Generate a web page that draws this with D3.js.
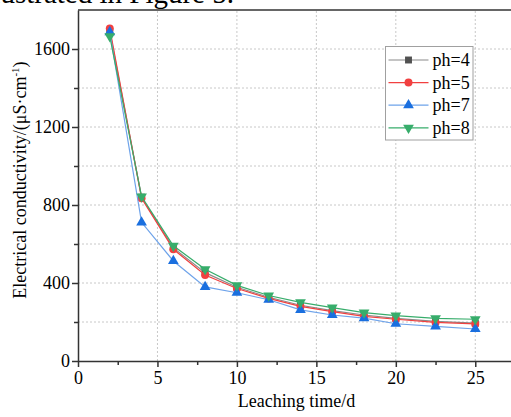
<!DOCTYPE html>
<html>
<head>
<meta charset="utf-8">
<script src="https://cdn.jsdelivr.net/npm/d3@7"></script>
<style>
  html, body { margin: 0; padding: 0; background: #fff; overflow: hidden; }
  text { font-family: "Liberation Serif", "Times New Roman", serif; fill: #000; }
</style>
</head>
<body>
<div class="chart-area"></div>
<script>
// leaching time (d)
var days = [2, 4, 6, 8, 10, 12, 14, 16, 18, 20, 22.5, 25];
// conductivity for each pH (uS/cm)
var ph4 = [1690, 840, 580, 453, 378, 327, 286, 258, 236, 219, 203, 194];
var ph5 = [1705, 835, 573, 441, 372, 321, 280, 253, 229, 214, 198, 190];
var ph7 = [1687, 711, 513, 380, 350, 314, 262, 236, 220, 191, 178, 164];
var ph8 = [1665, 843, 591, 470, 388, 336, 301, 274, 248, 233, 219, 214];
var seriesNames = ["ph=4", "ph=5", "ph=7", "ph=8"];
var xTicks = [0, 5, 10, 15, 20, 25];
var yTicks = [0, 400, 800, 1200, 1600];

const width = 511, height = 417;
const margin = { top: 10, right: -4, bottom: 56, left: 78 };

const svg = d3.select('.chart-area').append('svg')
    .attr('width', width).attr('height', height);

// cropped caption text from the page above the figure
svg.append("text")
    .attr("x", 234).attr("y", 3)
    .attr("text-anchor", "end")
    .style("font-size", "29px")
    .text("illustrated in Figure 5.");

var x = d3.scaleLinear().domain([0, 27.5])
    .range([margin.left, width - margin.right]);
var y = d3.scaleLinear().domain([0, 1800])
    .range([height - margin.bottom, margin.top]);

// grid
svg.append("g").selectAll("line")
    .data(d3.range(200, 1800, 200))
    .join("line")
    .attr("x1", x(0)).attr("x2", x(27.5))
    .attr("y1", d => y(d)).attr("y2", d => y(d))
    .attr("stroke", "#c8c8c8").attr("stroke-dasharray", "2,2");
svg.append("g").selectAll("line")
    .data(xTicks.slice(1))
    .join("line")
    .attr("x1", d => x(d)).attr("x2", d => x(d))
    .attr("y1", y(0)).attr("y2", y(1800))
    .attr("stroke", "#c8c8c8").attr("stroke-dasharray", "2,2");

// frame top
svg.append("line")
    .attr("x1", x(0)).attr("x2", x(27.5))
    .attr("y1", y(1800)).attr("y2", y(1800))
    .attr("stroke", "#333").attr("stroke-width", 1.5);

// minor ticks
svg.append("g").attr("transform", `translate(0,${y(0)})`)
    .call(d3.axisBottom(x).tickValues(d3.range(2.5, 27.5, 5)).tickSize(4).tickFormat(""))
    .call(g => g.select(".domain").remove())
    .call(g => g.selectAll("line").attr("stroke", "#333").attr("stroke-width", 1.5));
svg.append("g").attr("transform", `translate(${x(0)},0)`)
    .call(d3.axisLeft(y).tickValues(d3.range(200, 1800, 400)).tickSize(4).tickFormat(""))
    .call(g => g.select(".domain").remove())
    .call(g => g.selectAll("line").attr("stroke", "#333").attr("stroke-width", 1.5));

var xAxis = g => g
    .attr("transform", `translate(0,${y(0)})`)
    .call(d3.axisBottom(x).tickValues(xTicks).tickFormat(d3.format("d"))
        .tickSize(6).tickPadding(4).tickSizeOuter(0))
    .call(g => g.select(".domain").attr("stroke", "#333").attr("stroke-width", 1.5))
    .call(g => g.selectAll(".tick line").attr("stroke", "#333").attr("stroke-width", 1.5))
    .call(g => g.selectAll("text").style("font-size", "18px")
        .style("font-family", '"Liberation Serif", serif'));

var yAxis = g => g
    .attr("transform", `translate(${x(0)},0)`)
    .call(d3.axisLeft(y).tickValues(yTicks).tickFormat(d3.format("d"))
        .tickSize(6).tickPadding(2).tickSizeOuter(0))
    .call(g => g.select(".domain").attr("stroke", "#333").attr("stroke-width", 1.5))
    .call(g => g.selectAll(".tick line").attr("stroke", "#333").attr("stroke-width", 1.5))
    .call(g => g.selectAll("text").style("font-size", "18px")
        .style("font-family", '"Liberation Serif", serif'));

svg.append("g").call(xAxis);
svg.append("g").call(yAxis);

// axis titles
svg.append("text")
    .attr("x", x(13.75)).attr("y", 407)
    .attr("text-anchor", "middle")
    .style("font-size", "18px")
    .text("Leaching time/d");

var yt = svg.append("text")
    .attr("transform", "translate(26,180) rotate(-90)")
    .attr("text-anchor", "middle")
    .style("font-size", "18px");
yt.append("tspan").text("Electrical conductivity/(μS·cm");
yt.append("tspan").attr("dy", -7).style("font-size", "11px").text("-1");
yt.append("tspan").attr("dy", 7).text(")");

// series
var colors = ["#515151", "#F14040", "#1A6FDF", "#37AD6B"];
var lineColors = ["#8a8a8a", "#F14040", "#6ea3ea", "#37AD6B"];
var shapes = [d3.symbolSquare, d3.symbolCircle, d3.symbolTriangle, d3.symbolTriangle];
var sizes = [48, 50, 50, 50];
var rot = [0, 0, 0, 180];
var allSeries = [ph4, ph5, ph7, ph8];

var line = d3.line().x((d, i) => x(days[i])).y(d => y(d));

allSeries.forEach((s, k) => {
    svg.append("path")
        .datum(s)
        .attr("d", line)
        .attr("fill", "none")
        .attr("stroke", lineColors[k])
        .attr("stroke-width", 1.2);
    svg.append("g").selectAll("path")
        .data(s)
        .join("path")
        .attr("d", d3.symbol().type(shapes[k]).size(sizes[k]))
        .attr("transform", (d, i) => `translate(${x(days[i])},${y(d)}) rotate(${rot[k]})`)
        .attr("fill", colors[k]);
});

// legend
const lg = svg.append("g").attr("transform", "translate(385.5,46.5)");
lg.append("rect")
    .attr("width", 87.5).attr("height", 93.5)
    .attr("fill", "#fff").attr("stroke", "#a0a0a0").attr("stroke-width", 1);
seriesNames.forEach((name, k) => {
    var yy = 13.5 + k * 22.6;
    lg.append("line")
        .attr("x1", 3).attr("x2", 43).attr("y1", yy).attr("y2", yy)
        .attr("stroke", lineColors[k]).attr("stroke-width", 1.2);
    lg.append("path")
        .attr("d", d3.symbol().type(shapes[k]).size(sizes[k]))
        .attr("transform", `translate(23,${yy}) rotate(${rot[k]})`)
        .attr("fill", colors[k]);
    lg.append("text")
        .attr("x", 47).attr("y", yy + 6)
        .style("font-size", "18px")
        .text(name);
});
</script>
</body>
</html>
